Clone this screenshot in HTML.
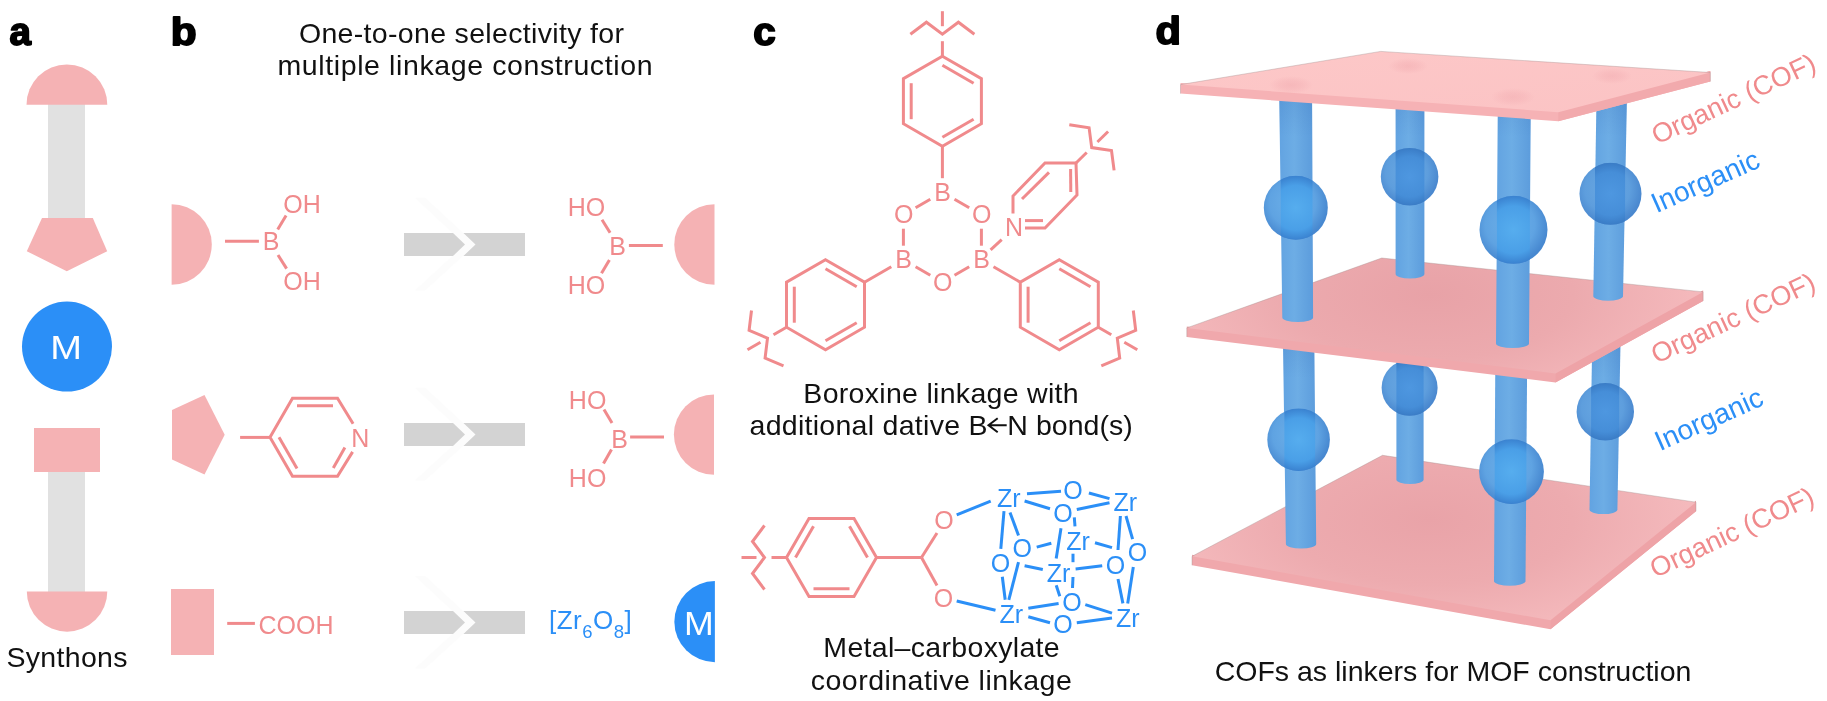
<!DOCTYPE html><html><head><meta charset="utf-8"><style>html,body{margin:0;padding:0;background:#fff;overflow:hidden}svg{display:block;font-family:"Liberation Sans",sans-serif;will-change:transform}</style></head><body><svg width="1827" height="701" viewBox="0 0 1827 701" font-family="Liberation Sans, sans-serif"><defs><linearGradient id="pil" x1="0" x2="1" y1="0" y2="0"><stop offset="0" stop-color="#62a3e1"/><stop offset="0.45" stop-color="#6dade5"/><stop offset="1" stop-color="#5c9cdc"/></linearGradient><radialGradient id="sph" cx="0.5" cy="0.5" r="0.5"><stop offset="0" stop-color="#68ace7"/><stop offset="0.8" stop-color="#5da1e0"/><stop offset="1" stop-color="#4f8fd5"/></radialGradient><radialGradient id="sphc" cx="0.5" cy="0.5" r="0.5"><stop offset="0" stop-color="#50adef"/><stop offset="0.7" stop-color="#4598e4"/><stop offset="1" stop-color="#3a84d3"/></radialGradient><linearGradient id="psh" x1="0" x2="0" y1="0" y2="1"><stop offset="0" stop-color="#2d5fa8" stop-opacity="0.18"/><stop offset="1" stop-color="#2d5fa8" stop-opacity="0"/></linearGradient><radialGradient id="ao"><stop offset="0" stop-color="#ec9ea5" stop-opacity="0.35"/><stop offset="0.5" stop-color="#ec9ea5" stop-opacity="0.22"/><stop offset="1" stop-color="#ec9ea5" stop-opacity="0"/></radialGradient><linearGradient id="topT" x1="0" x2="1" y1="0" y2="1"><stop offset="0" stop-color="#fdc8c8"/><stop offset="1" stop-color="#fbc3c4"/></linearGradient><radialGradient id="midT" gradientUnits="userSpaceOnUse" cx="1430" cy="295" r="260" gradientTransform="translate(1430 295) scale(1 0.45) translate(-1430 -295)"><stop offset="0" stop-color="#e8a2a7"/><stop offset="0.55" stop-color="#ecaaae"/><stop offset="1" stop-color="#f4b8bb"/></radialGradient><radialGradient id="botT" gradientUnits="userSpaceOnUse" cx="1430" cy="520" r="260" gradientTransform="translate(1430 520) scale(1 0.45) translate(-1430 -520)"><stop offset="0" stop-color="#e9a3a8"/><stop offset="0.55" stop-color="#edabaf"/><stop offset="1" stop-color="#f4b9bc"/></radialGradient><clipPath id="sc1"><circle cx="1409.6" cy="387.8" r="28"/></clipPath><radialGradient id="so1" gradientUnits="userSpaceOnUse" cx="1406.8" cy="383.6" r="31.4"><stop offset="0" stop-color="#6aa8e2"/><stop offset="0.65" stop-color="#5e9edd"/><stop offset="1" stop-color="#4a88cf"/></radialGradient><radialGradient id="sg1" gradientUnits="userSpaceOnUse" cx="1409.6" cy="387.8" r="28"><stop offset="0" stop-color="#4e97e0"/><stop offset="0.7" stop-color="#468ed8"/><stop offset="1" stop-color="#3a7cc6"/></radialGradient><clipPath id="sc2"><circle cx="1605.3" cy="411.7" r="28.7"/></clipPath><radialGradient id="so2" gradientUnits="userSpaceOnUse" cx="1602.4" cy="407.4" r="32.1"><stop offset="0" stop-color="#6aa8e2"/><stop offset="0.65" stop-color="#5e9edd"/><stop offset="1" stop-color="#4a88cf"/></radialGradient><radialGradient id="sg2" gradientUnits="userSpaceOnUse" cx="1605.3" cy="411.7" r="28.7"><stop offset="0" stop-color="#4e97e0"/><stop offset="0.7" stop-color="#468ed8"/><stop offset="1" stop-color="#3a7cc6"/></radialGradient><clipPath id="sc3"><circle cx="1298.6" cy="439.7" r="31.3"/></clipPath><radialGradient id="so3" gradientUnits="userSpaceOnUse" cx="1295.5" cy="435" r="35.1"><stop offset="0" stop-color="#6db0e8"/><stop offset="0.65" stop-color="#5fa3e2"/><stop offset="1" stop-color="#4788d0"/></radialGradient><radialGradient id="sg3" gradientUnits="userSpaceOnUse" cx="1298.6" cy="439.7" r="31.3"><stop offset="0" stop-color="#56adee"/><stop offset="0.7" stop-color="#4a9fe7"/><stop offset="1" stop-color="#3a82d0"/></radialGradient><clipPath id="sc4"><circle cx="1511.5" cy="471.6" r="32.4"/></clipPath><radialGradient id="so4" gradientUnits="userSpaceOnUse" cx="1508.3" cy="466.7" r="36.3"><stop offset="0" stop-color="#6db0e8"/><stop offset="0.65" stop-color="#5fa3e2"/><stop offset="1" stop-color="#4788d0"/></radialGradient><radialGradient id="sg4" gradientUnits="userSpaceOnUse" cx="1511.5" cy="471.6" r="32.4"><stop offset="0" stop-color="#56adee"/><stop offset="0.7" stop-color="#4a9fe7"/><stop offset="1" stop-color="#3a82d0"/></radialGradient><clipPath id="sc5"><circle cx="1409.6" cy="176.7" r="28.8"/></clipPath><radialGradient id="so5" gradientUnits="userSpaceOnUse" cx="1406.7" cy="172.4" r="32.3"><stop offset="0" stop-color="#6aa8e2"/><stop offset="0.65" stop-color="#5e9edd"/><stop offset="1" stop-color="#4a88cf"/></radialGradient><radialGradient id="sg5" gradientUnits="userSpaceOnUse" cx="1409.6" cy="176.7" r="28.8"><stop offset="0" stop-color="#4e97e0"/><stop offset="0.7" stop-color="#468ed8"/><stop offset="1" stop-color="#3a7cc6"/></radialGradient><clipPath id="sc6"><circle cx="1610.5" cy="193.8" r="31"/></clipPath><radialGradient id="so6" gradientUnits="userSpaceOnUse" cx="1607.4" cy="189.2" r="34.7"><stop offset="0" stop-color="#6aa8e2"/><stop offset="0.65" stop-color="#5e9edd"/><stop offset="1" stop-color="#4a88cf"/></radialGradient><radialGradient id="sg6" gradientUnits="userSpaceOnUse" cx="1610.5" cy="193.8" r="31"><stop offset="0" stop-color="#4e97e0"/><stop offset="0.7" stop-color="#468ed8"/><stop offset="1" stop-color="#3a7cc6"/></radialGradient><clipPath id="sc7"><circle cx="1295.8" cy="207.8" r="32"/></clipPath><radialGradient id="so7" gradientUnits="userSpaceOnUse" cx="1292.6" cy="203" r="35.8"><stop offset="0" stop-color="#6db0e8"/><stop offset="0.65" stop-color="#5fa3e2"/><stop offset="1" stop-color="#4788d0"/></radialGradient><radialGradient id="sg7" gradientUnits="userSpaceOnUse" cx="1295.8" cy="207.8" r="32"><stop offset="0" stop-color="#56adee"/><stop offset="0.7" stop-color="#4a9fe7"/><stop offset="1" stop-color="#3a82d0"/></radialGradient><clipPath id="sc8"><circle cx="1513.5" cy="229.8" r="34"/></clipPath><radialGradient id="so8" gradientUnits="userSpaceOnUse" cx="1510.1" cy="224.7" r="38.1"><stop offset="0" stop-color="#6db0e8"/><stop offset="0.65" stop-color="#5fa3e2"/><stop offset="1" stop-color="#4788d0"/></radialGradient><radialGradient id="sg8" gradientUnits="userSpaceOnUse" cx="1513.5" cy="229.8" r="34"><stop offset="0" stop-color="#56adee"/><stop offset="0.7" stop-color="#4a9fe7"/><stop offset="1" stop-color="#3a82d0"/></radialGradient></defs><rect width="1827" height="701" fill="#fff"/><text x="0" y="0" font-size="38.5" font-weight="bold" fill="#000" stroke="#000" stroke-width="1.8" stroke-linejoin="round" transform="translate(9.4,44.5) scale(1.0,1)">a</text>
<text x="0" y="0" font-size="38.5" font-weight="bold" fill="#000" stroke="#000" stroke-width="1.8" stroke-linejoin="round" transform="translate(170.8,44.5) scale(1.1,1)">b</text>
<text x="0" y="0" font-size="38.5" font-weight="bold" fill="#000" stroke="#000" stroke-width="1.8" stroke-linejoin="round" transform="translate(753.2,44.5) scale(1.05,1)">c</text>
<text x="0" y="0" font-size="38.5" font-weight="bold" fill="#000" stroke="#000" stroke-width="1.8" stroke-linejoin="round" transform="translate(1155.4,44.1) scale(1.08,1)">d</text>
<rect x="48" y="104" width="37" height="120" fill="#e1e1e1"/>
<path d="M26.5,104.8 A40.4,40.4 0 0 1 107.3,104.8 Z" fill="#f5b2b4"/>
<polygon points="42,218 92.8,218 107.2,251.2 66.8,271.2 26.8,251.2" fill="#f5b2b4" />
<circle cx="67" cy="346.6" r="45" fill="#2b8ff7"/>
<text x="0" y="0" font-size="34" fill="#fff" text-anchor="middle" transform="translate(66,359.2) scale(1.12,1)">M</text>
<rect x="48" y="470" width="37" height="122" fill="#e1e1e1"/>
<rect x="34" y="428" width="66" height="44" fill="#f5b2b4"/>
<path d="M26.8,591.4 A40.25,40.25 0 0 0 107.3,591.4 Z" fill="#f5b2b4"/>
<text x="67" y="667.4" font-size="28.5" fill="#111" text-anchor="middle" textLength="121" lengthAdjust="spacing">Synthons</text>
<text x="461.4" y="43.2" font-size="28.5" fill="#111" text-anchor="middle" textLength="325" lengthAdjust="spacing">One-to-one selectivity for</text>
<text x="465" y="74.6" font-size="28.5" fill="#111" text-anchor="middle" textLength="375" lengthAdjust="spacing">multiple linkage construction</text>
<path d="M171.6,204.3 A40.2,40.2 0 0 1 171.6,284.7 Z" fill="#f5b2b4"/>
<line x1="225" y1="241.3" x2="258.9" y2="241.3" stroke="#f08a8c" stroke-width="3.0"/>
<text x="271" y="250.2" font-size="25" fill="#f08a8c" text-anchor="middle" >B</text>
<text x="302" y="212.5" font-size="25" fill="#f08a8c" text-anchor="middle" >OH</text>
<text x="302" y="289.9" font-size="25" fill="#f08a8c" text-anchor="middle" >OH</text>
<line x1="277.7" y1="229.6" x2="286.1" y2="215.6" stroke="#f08a8c" stroke-width="3.0"/>
<line x1="278" y1="255" x2="286.6" y2="268.6" stroke="#f08a8c" stroke-width="3.0"/>
<polygon points="204.5,395.1 224.7,434.8 204.5,474.5 172,459.6 172,410" fill="#f5b2b4" />
<line x1="240.1" y1="437.4" x2="270.4" y2="437.4" stroke="#f08a8c" stroke-width="3.0"/>
<polyline points="353.1,423.7 337.5,398.2 292.5,398.2 270,437.2 292.5,476.2 337.5,476.2 352.6,451.9" fill="none" stroke="#f08a8c" stroke-width="3.0" stroke-linejoin="miter"/>
<line x1="297" y1="405.8" x2="333" y2="405.8" stroke="#f08a8c" stroke-width="3.0"/>
<line x1="279" y1="437.2" x2="297" y2="468.4" stroke="#f08a8c" stroke-width="3.0"/>
<line x1="333.3" y1="467.9" x2="344.9" y2="447.6" stroke="#f08a8c" stroke-width="3.0"/>
<text x="360.2" y="447.2" font-size="25" fill="#f08a8c" text-anchor="middle" >N</text>
<rect x="171" y="589" width="43" height="66" fill="#f5b2b4"/>
<line x1="227.2" y1="623.4" x2="254.9" y2="623.4" stroke="#f08a8c" stroke-width="3.0"/>
<text x="258.5" y="634.3" font-size="25" fill="#f08a8c" text-anchor="start" >COOH</text>
<polygon points="415,197.8 425,197.8 475.5,244.4 425,290.4 415,290.4 465,244.4" fill="#fcfcfc" />
<polygon points="404,232.9 453,232.9 465,244.4 453,255.9 404,255.9" fill="#d3d3d3" />
<polygon points="463.4,232.9 525,232.9 525,255.9 463.4,255.9 475.5,244.4" fill="#d3d3d3" />
<polygon points="415,387.8 425,387.8 475.5,434.4 425,480.4 415,480.4 465,434.4" fill="#fcfcfc" />
<polygon points="404,422.9 453,422.9 465,434.4 453,445.9 404,445.9" fill="#d3d3d3" />
<polygon points="463.4,422.9 525,422.9 525,445.9 463.4,445.9 475.5,434.4" fill="#d3d3d3" />
<polygon points="415,575.9 425,575.9 475.5,622.5 425,668.5 415,668.5 465,622.5" fill="#fcfcfc" />
<polygon points="404,611 453,611 465,622.5 453,634 404,634" fill="#d3d3d3" />
<polygon points="463.4,611 525,611 525,634 463.4,634 475.5,622.5" fill="#d3d3d3" />
<path d="M714.5,204.3 A40.2,40.2 0 0 0 714.5,284.7 Z" fill="#f5b2b4"/>
<line x1="628.9" y1="245.4" x2="662.8" y2="245.4" stroke="#f08a8c" stroke-width="3.0"/>
<text x="617.7" y="255.3" font-size="25" fill="#f08a8c" text-anchor="middle" >B</text>
<text x="586.4" y="215.9" font-size="25" fill="#f08a8c" text-anchor="middle" >HO</text>
<text x="586.4" y="293.8" font-size="25" fill="#f08a8c" text-anchor="middle" >HO</text>
<line x1="610.1" y1="232.7" x2="602" y2="219.7" stroke="#f08a8c" stroke-width="3.0"/>
<line x1="609.4" y1="260" x2="601.5" y2="273.3" stroke="#f08a8c" stroke-width="3.0"/>
<path d="M714,394.5 A40.1,40.1 0 0 0 714,474.7 Z" fill="#f5b2b4"/>
<line x1="630.1" y1="437.1" x2="664" y2="437.1" stroke="#f08a8c" stroke-width="3.0"/>
<text x="619.6" y="447.5" font-size="25" fill="#f08a8c" text-anchor="middle" >B</text>
<text x="587.6" y="409.3" font-size="25" fill="#f08a8c" text-anchor="middle" >HO</text>
<text x="587.6" y="487.2" font-size="25" fill="#f08a8c" text-anchor="middle" >HO</text>
<line x1="612" y1="423" x2="604" y2="409.5" stroke="#f08a8c" stroke-width="3.0"/>
<line x1="611.5" y1="449.5" x2="603.5" y2="463.5" stroke="#f08a8c" stroke-width="3.0"/>
<text x="549" y="629.4" font-size="26" letter-spacing="0.5" fill="#2b8ff7">[Zr<tspan font-size="18.5" dy="8.5">6</tspan><tspan dy="-8.5">O</tspan><tspan font-size="18.5" dy="8.5">8</tspan><tspan dy="-8.5">]</tspan></text>
<path d="M714.9,581.1 A40.5,40.5 0 0 0 714.9,662.2 Z" fill="#2b8ff7"/>
<text x="0" y="0" font-size="34" fill="#fff" text-anchor="middle" transform="translate(698.8,634.8) scale(1.05,1)">M</text>
<line x1="954.5" y1="199.2" x2="969.2" y2="207.7" stroke="#f08a8c" stroke-width="3.0"/>
<line x1="981.4" y1="228.7" x2="981.4" y2="245.7" stroke="#f08a8c" stroke-width="3.0"/>
<line x1="969.2" y1="266.7" x2="954.5" y2="275.2" stroke="#f08a8c" stroke-width="3.0"/>
<line x1="930.3" y1="275.2" x2="915.6" y2="266.7" stroke="#f08a8c" stroke-width="3.0"/>
<line x1="903.4" y1="245.7" x2="903.4" y2="228.7" stroke="#f08a8c" stroke-width="3.0"/>
<line x1="915.6" y1="207.7" x2="930.3" y2="199.2" stroke="#f08a8c" stroke-width="3.0"/>
<text x="942.7" y="200.8" font-size="25" fill="#f08a8c" text-anchor="middle" >B</text>
<text x="981.7" y="223.3" font-size="25" fill="#f08a8c" text-anchor="middle" >O</text>
<text x="981.7" y="268.3" font-size="25" fill="#f08a8c" text-anchor="middle" >B</text>
<text x="942.7" y="290.8" font-size="25" fill="#f08a8c" text-anchor="middle" >O</text>
<text x="903.7" y="268.3" font-size="25" fill="#f08a8c" text-anchor="middle" >B</text>
<text x="903.7" y="223.3" font-size="25" fill="#f08a8c" text-anchor="middle" >O</text>
<polygon points="942.4,56.2 981.4,78.7 981.4,123.7 942.4,146.2 903.4,123.7 903.4,78.7" fill="none" stroke="#f08a8c" stroke-width="3.0" stroke-linejoin="miter"/>
<line x1="942.4" y1="65.2" x2="973.6" y2="83.2" stroke="#f08a8c" stroke-width="3.0"/>
<line x1="911.2" y1="119.2" x2="911.2" y2="83.2" stroke="#f08a8c" stroke-width="3.0"/>
<line x1="973.6" y1="119.2" x2="942.4" y2="137.2" stroke="#f08a8c" stroke-width="3.0"/>
<line x1="942.4" y1="146.2" x2="942.4" y2="178.2" stroke="#f08a8c" stroke-width="3.0"/>
<line x1="942.4" y1="56.2" x2="942.4" y2="41.2" stroke="#f08a8c" stroke-width="3.0"/>
<line x1="942.4" y1="26.2" x2="942.4" y2="11.2" stroke="#f08a8c" stroke-width="3.0"/>
<polyline points="910.4,34.2 926.4,22.2 942.4,34.2 958.4,22.2 974.4,34.2" fill="none" stroke="#f08a8c" stroke-width="3.0" stroke-linejoin="miter"/>
<polygon points="825.5,259.7 864.5,282.2 864.5,327.2 825.5,349.7 786.5,327.2 786.5,282.2" fill="none" stroke="#f08a8c" stroke-width="3.0" stroke-linejoin="miter"/>
<line x1="825.5" y1="268.7" x2="856.7" y2="286.7" stroke="#f08a8c" stroke-width="3.0"/>
<line x1="794.3" y1="322.7" x2="794.3" y2="286.7" stroke="#f08a8c" stroke-width="3.0"/>
<line x1="856.7" y1="322.7" x2="825.5" y2="340.7" stroke="#f08a8c" stroke-width="3.0"/>
<line x1="891.3" y1="266.7" x2="864.5" y2="282.2" stroke="#f08a8c" stroke-width="3.0"/>
<line x1="786.5" y1="327.2" x2="773.5" y2="334.7" stroke="#f08a8c" stroke-width="3.0"/>
<line x1="760.5" y1="342.2" x2="747.5" y2="349.7" stroke="#f08a8c" stroke-width="3.0"/>
<polyline points="783.5,365.9 765.1,358.1 767.5,338.2 749.1,330.3 751.5,310.5" fill="none" stroke="#f08a8c" stroke-width="3.0" stroke-linejoin="miter"/>
<polygon points="1059.3,259.7 1098.3,282.2 1098.3,327.2 1059.3,349.7 1020.3,327.2 1020.3,282.2" fill="none" stroke="#f08a8c" stroke-width="3.0" stroke-linejoin="miter"/>
<line x1="1059.3" y1="268.7" x2="1090.5" y2="286.7" stroke="#f08a8c" stroke-width="3.0"/>
<line x1="1028.1" y1="322.7" x2="1028.1" y2="286.7" stroke="#f08a8c" stroke-width="3.0"/>
<line x1="1090.5" y1="322.7" x2="1059.3" y2="340.7" stroke="#f08a8c" stroke-width="3.0"/>
<line x1="993.5" y1="266.7" x2="1020.3" y2="282.2" stroke="#f08a8c" stroke-width="3.0"/>
<line x1="1098.3" y1="327.2" x2="1111.3" y2="334.7" stroke="#f08a8c" stroke-width="3.0"/>
<line x1="1124.3" y1="342.2" x2="1137.3" y2="349.7" stroke="#f08a8c" stroke-width="3.0"/>
<polyline points="1133.3,310.5 1135.7,330.3 1117.3,338.2 1119.7,358.1 1101.3,365.9" fill="none" stroke="#f08a8c" stroke-width="3.0" stroke-linejoin="miter"/>
<line x1="990.6" y1="249.8" x2="1001.7" y2="239.6" stroke="#f08a8c" stroke-width="3.0"/>
<text x="1014" y="236.4" font-size="25" fill="#f08a8c" text-anchor="middle" >N</text>
<polyline points="1013,213.5 1013,196 1045,163 1076,163 1077,195 1045,228 1025,228" fill="none" stroke="#f08a8c" stroke-width="3.0" stroke-linejoin="miter"/>
<line x1="1049" y1="172.4" x2="1022" y2="199" stroke="#f08a8c" stroke-width="3.0"/>
<line x1="1070.6" y1="169" x2="1070.8" y2="192" stroke="#f08a8c" stroke-width="3.0"/>
<line x1="1025" y1="220.6" x2="1043" y2="220.6" stroke="#f08a8c" stroke-width="3.0"/>
<line x1="1076" y1="163" x2="1086.7" y2="152.5" stroke="#f08a8c" stroke-width="3.0"/>
<line x1="1097.4" y1="142" x2="1108.1" y2="131.5" stroke="#f08a8c" stroke-width="3.0"/>
<polyline points="1069.3,124.7 1089.1,127.8 1091.7,147.6 1111.5,150.6 1114.1,170.4" fill="none" stroke="#f08a8c" stroke-width="3.0" stroke-linejoin="miter"/>
<line x1="956.7" y1="514.9" x2="990.7" y2="501.1" stroke="#2b8ff7" stroke-width="3.0"/>
<line x1="956.7" y1="601" x2="995.5" y2="610.2" stroke="#2b8ff7" stroke-width="3.0"/>
<line x1="1027" y1="493.8" x2="1061" y2="491.3" stroke="#2b8ff7" stroke-width="3.0"/>
<line x1="1088.9" y1="493" x2="1109.5" y2="498.6" stroke="#2b8ff7" stroke-width="3.0"/>
<line x1="1024.6" y1="501" x2="1050" y2="508.8" stroke="#2b8ff7" stroke-width="3.0"/>
<line x1="1076.8" y1="509.5" x2="1109.5" y2="502.8" stroke="#2b8ff7" stroke-width="3.0"/>
<line x1="1004" y1="511.2" x2="1000.8" y2="548.8" stroke="#2b8ff7" stroke-width="3.0"/>
<line x1="1010" y1="512.5" x2="1018.5" y2="535.5" stroke="#2b8ff7" stroke-width="3.0"/>
<line x1="1074.3" y1="517.3" x2="1075" y2="526.3" stroke="#2b8ff7" stroke-width="3.0"/>
<line x1="1036.7" y1="547.1" x2="1051.3" y2="543.3" stroke="#2b8ff7" stroke-width="3.0"/>
<line x1="1095" y1="542.8" x2="1112" y2="547.6" stroke="#2b8ff7" stroke-width="3.0"/>
<line x1="1126" y1="516" x2="1132.6" y2="539.1" stroke="#2b8ff7" stroke-width="3.0"/>
<line x1="1120.4" y1="516" x2="1118" y2="550" stroke="#2b8ff7" stroke-width="3.0"/>
<line x1="1061" y1="528.2" x2="1056.2" y2="558.5" stroke="#2b8ff7" stroke-width="3.0"/>
<line x1="1073" y1="553.7" x2="1073" y2="562.2" stroke="#2b8ff7" stroke-width="3.0"/>
<line x1="1073" y1="577" x2="1072.5" y2="588" stroke="#2b8ff7" stroke-width="3.0"/>
<line x1="1024.6" y1="565.8" x2="1042.8" y2="569.5" stroke="#2b8ff7" stroke-width="3.0"/>
<line x1="1075.6" y1="569" x2="1102.2" y2="565.8" stroke="#2b8ff7" stroke-width="3.0"/>
<line x1="1018.5" y1="562.2" x2="1008.8" y2="599.8" stroke="#2b8ff7" stroke-width="3.0"/>
<line x1="1002.3" y1="576.7" x2="1005.2" y2="599.8" stroke="#2b8ff7" stroke-width="3.0"/>
<line x1="1056.2" y1="585.2" x2="1059.8" y2="596.2" stroke="#2b8ff7" stroke-width="3.0"/>
<line x1="1028.3" y1="608.3" x2="1058.6" y2="603.4" stroke="#2b8ff7" stroke-width="3.0"/>
<line x1="1085.3" y1="604.6" x2="1112" y2="613.1" stroke="#2b8ff7" stroke-width="3.0"/>
<line x1="1028.3" y1="616.8" x2="1050" y2="622.8" stroke="#2b8ff7" stroke-width="3.0"/>
<line x1="1076.8" y1="622.8" x2="1112" y2="618" stroke="#2b8ff7" stroke-width="3.0"/>
<line x1="1118" y1="579" x2="1122.9" y2="603.4" stroke="#2b8ff7" stroke-width="3.0"/>
<line x1="1133.3" y1="567" x2="1127.7" y2="603.4" stroke="#2b8ff7" stroke-width="3.0"/>
<text x="1008.8" y="507.2" font-size="25" fill="#2b8ff7" text-anchor="middle" >Zr</text>
<text x="1073.1" y="499.2" font-size="25" fill="#2b8ff7" text-anchor="middle" >O</text>
<text x="1125.3" y="511.4" font-size="25" fill="#2b8ff7" text-anchor="middle" >Zr</text>
<text x="1063" y="521.8" font-size="25" fill="#2b8ff7" text-anchor="middle" >O</text>
<text x="1078" y="550.2" font-size="25" fill="#2b8ff7" text-anchor="middle" >Zr</text>
<text x="1022.2" y="557.4" font-size="25" fill="#2b8ff7" text-anchor="middle" >O</text>
<text x="1000.4" y="572" font-size="25" fill="#2b8ff7" text-anchor="middle" >O</text>
<text x="1058.6" y="581.7" font-size="25" fill="#2b8ff7" text-anchor="middle" >Zr</text>
<text x="1115.6" y="573.9" font-size="25" fill="#2b8ff7" text-anchor="middle" >O</text>
<text x="1137.4" y="561.1" font-size="25" fill="#2b8ff7" text-anchor="middle" >O</text>
<text x="1072" y="610.8" font-size="25" fill="#2b8ff7" text-anchor="middle" >O</text>
<text x="1011.3" y="622.9" font-size="25" fill="#2b8ff7" text-anchor="middle" >Zr</text>
<text x="1063" y="633.4" font-size="25" fill="#2b8ff7" text-anchor="middle" >O</text>
<text x="1127.7" y="627.1" font-size="25" fill="#2b8ff7" text-anchor="middle" >Zr</text>
<text x="944" y="529" font-size="25" fill="#f08a8c" text-anchor="middle" >O</text>
<text x="943.5" y="606.8" font-size="25" fill="#f08a8c" text-anchor="middle" >O</text>
<polygon points="786.5,557.5 809,518.5 854,518.5 876.5,557.5 854,596.5 809,596.5" fill="none" stroke="#f08a8c" stroke-width="3.0" stroke-linejoin="miter"/>
<line x1="795.5" y1="557.5" x2="813.5" y2="526.3" stroke="#f08a8c" stroke-width="3.0"/>
<line x1="849.5" y1="526.3" x2="867.5" y2="557.5" stroke="#f08a8c" stroke-width="3.0"/>
<line x1="849.5" y1="588.7" x2="813.5" y2="588.7" stroke="#f08a8c" stroke-width="3.0"/>
<line x1="876.5" y1="557.5" x2="921.5" y2="557.5" stroke="#f08a8c" stroke-width="3.0"/>
<line x1="921.5" y1="557.5" x2="937" y2="533" stroke="#f08a8c" stroke-width="3.0"/>
<line x1="921.5" y1="557.5" x2="937" y2="585.4" stroke="#f08a8c" stroke-width="3.0"/>
<line x1="786.5" y1="557.5" x2="771.5" y2="557.5" stroke="#f08a8c" stroke-width="3.0"/>
<line x1="756.5" y1="557.5" x2="741.5" y2="557.5" stroke="#f08a8c" stroke-width="3.0"/>
<polyline points="764.5,589.5 752.5,573.5 764.5,557.5 752.5,541.5 764.5,525.5" fill="none" stroke="#f08a8c" stroke-width="3.0" stroke-linejoin="miter"/>
<line x1="956.7" y1="514.9" x2="956.7" y2="514.9" stroke="#f08a8c" stroke-width="3.0"/>
<text x="941" y="403.2" font-size="28.5" fill="#111" text-anchor="middle" textLength="275.3" lengthAdjust="spacing">Boroxine linkage with</text>
<text x="749.5" y="434.8" font-size="28.5" fill="#111" textLength="238" lengthAdjust="spacing">additional dative B</text>
<path d="M988.5,425.2 H1006.7 M997.7,418.2 L988.5,425.2 L997.7,432.2" fill="none" stroke="#111" stroke-width="2"/>
<text x="1007.3" y="434.8" font-size="28.5" fill="#111" textLength="125.5" lengthAdjust="spacing">N bond(s)</text>
<text x="941.5" y="656.9" font-size="28.5" fill="#111" text-anchor="middle" textLength="236.3" lengthAdjust="spacing">Metal&#8211;carboxylate</text>
<text x="941.3" y="689.8" font-size="28.5" fill="#111" text-anchor="middle" textLength="261" lengthAdjust="spacing">coordinative linkage</text>
<polygon points="1192,554.8 1550.5,618.8 1696,500.7 1696,511.2 1550.5,629.3 1192,565.3" fill="#f0a8ac" />
<polygon points="1550.5,618.8 1696,500.7 1696,511.2 1550.5,629.3" fill="#eea3a7" />
<polygon points="1192,556.3 1382.5,455.3 1696,502.2 1550.5,620.3" fill="url(#botT)" />
<polyline points="1192,565.3 1192,556.3 1382.5,455.3 1696,502.2 1696,511.2" fill="none" stroke="#a08888" stroke-width="0.8" opacity="0.45"/>
<path d="M1396.4,330 L1423.6,330 L1423.6,479.5 A13.6,4.5 0 0 1 1396.4,479.5 Z" fill="url(#pil)"/>
<path d="M1396.4,333 L1423.6,333 L1423.6,378 L1396.4,378 Z" fill="url(#psh)"/>
<circle cx="1409.6" cy="387.8" r="28" fill="url(#so1)"/>
<g clip-path="url(#sc1)"><rect x="1396.4" y="359.8" width="27.2" height="56" fill="url(#sg1)"/></g>
<path d="M1592.4,330 L1620.7,330 L1617.4,510 A14,4.5 0 0 1 1589.5,510 Z" fill="url(#pil)"/>
<path d="M1592.4,333 L1620.7,333 L1619.9,378 L1591.7,378 Z" fill="url(#psh)"/>
<circle cx="1605.3" cy="411.7" r="28.7" fill="url(#so2)"/>
<g clip-path="url(#sc2)"><rect x="1591.1" y="383" width="28.1" height="57.4" fill="url(#sg2)"/></g>
<path d="M1282.8,330 L1314.2,330 L1316.2,544 A15.1,4.5 0 0 1 1285.9,544 Z" fill="url(#pil)"/>
<path d="M1282.8,333 L1314.2,333 L1314.6,378 L1283.4,378 Z" fill="url(#psh)"/>
<circle cx="1298.6" cy="439.7" r="31.3" fill="url(#so3)"/>
<g clip-path="url(#sc3)"><rect x="1284.4" y="408.4" width="30.8" height="62.6" fill="url(#sg3)"/></g>
<path d="M1495.5,330 L1527.4,330 L1525.5,581.5 A15.8,4.5 0 0 1 1494,581.5 Z" fill="url(#pil)"/>
<path d="M1495.5,333 L1527.4,333 L1527.1,378 L1495.2,378 Z" fill="url(#psh)"/>
<circle cx="1511.5" cy="471.6" r="32.4" fill="url(#so4)"/>
<g clip-path="url(#sc4)"><rect x="1494.7" y="439.2" width="31.7" height="64.8" fill="url(#sg4)"/></g>
<polygon points="1186.8,326.4 1555.5,371.9 1703.1,290.4 1703.1,300.9 1555.5,382.4 1186.8,336.9" fill="#f0a8ac" />
<polygon points="1555.5,371.9 1703.1,290.4 1703.1,300.9 1555.5,382.4" fill="#eea3a7" />
<polygon points="1186.8,327.9 1381.7,258 1703.1,291.9 1555.5,373.4" fill="url(#midT)" />
<polyline points="1186.8,336.9 1186.8,327.9 1381.7,258 1703.1,291.9 1703.1,300.9" fill="none" stroke="#a08888" stroke-width="0.8" opacity="0.45"/>
<path d="M1395.6,80 L1424.4,80 L1424.4,274 A14.4,4.5 0 0 1 1395.6,274 Z" fill="url(#pil)"/>
<path d="M1395.6,92 L1424.4,92 L1424.4,137 L1395.6,137 Z" fill="url(#psh)"/>
<circle cx="1409.6" cy="176.7" r="28.8" fill="url(#so5)"/>
<g clip-path="url(#sc5)"><rect x="1395.6" y="147.9" width="28.8" height="57.6" fill="url(#sg5)"/></g>
<path d="M1596.8,80 L1627.3,80 L1623,296.5 A14.9,4.5 0 0 1 1593.3,296.5 Z" fill="url(#pil)"/>
<path d="M1596.8,92 L1627.3,92 L1626.4,137 L1596.1,137 Z" fill="url(#psh)"/>
<circle cx="1610.5" cy="193.8" r="31" fill="url(#so6)"/>
<g clip-path="url(#sc6)"><rect x="1595" y="162.8" width="30.1" height="62" fill="url(#sg6)"/></g>
<path d="M1279,80 L1312,80 L1313.1,317.5 A15.4,4.5 0 0 1 1282.3,317.5 Z" fill="url(#pil)"/>
<path d="M1279,92 L1312,92 L1312.2,137 L1279.6,137 Z" fill="url(#psh)"/>
<circle cx="1295.8" cy="207.8" r="32" fill="url(#so7)"/>
<g clip-path="url(#sc7)"><rect x="1280.7" y="175.8" width="31.8" height="64" fill="url(#sg7)"/></g>
<path d="M1498,80 L1531,80 L1529,343.5 A16.5,4.5 0 0 1 1496,343.5 Z" fill="url(#pil)"/>
<path d="M1498,92 L1531,92 L1530.7,137 L1497.7,137 Z" fill="url(#psh)"/>
<circle cx="1513.5" cy="229.8" r="34" fill="url(#so8)"/>
<g clip-path="url(#sc8)"><rect x="1496.9" y="195.8" width="33" height="68" fill="url(#sg8)"/></g>
<polygon points="1180.5,83.1 1558.3,110.7 1710.3,71 1710.3,81.5 1558.3,121.2 1180.5,93.6" fill="#f6b2b5" />
<polygon points="1558.3,110.7 1710.3,71 1710.3,81.5 1558.3,121.2" fill="#f2aaad" />
<polygon points="1180.5,84.6 1380.7,51.4 1710.3,72.5 1558.3,112.2" fill="url(#topT)" />
<ellipse cx="1291" cy="85" rx="22" ry="9" fill="url(#ao)" opacity="1"/>
<ellipse cx="1408" cy="66" rx="20" ry="8" fill="url(#ao)" opacity="1"/>
<ellipse cx="1513" cy="97" rx="22" ry="9" fill="url(#ao)" opacity="0.9"/>
<ellipse cx="1612" cy="76" rx="20" ry="8" fill="url(#ao)" opacity="0.9"/>
<polyline points="1180.5,93.6 1180.5,84.6 1380.7,51.4 1710.3,72.5 1710.3,81.5" fill="none" stroke="#a08888" stroke-width="0.8" opacity="0.45"/>
<text x="1656.9" y="144.8" font-size="27.1" fill="#f08a8c" transform="rotate(-25 1656.9 144.8)">Organic (COF)</text>
<text x="1656.5" y="213.3" font-size="28" fill="#2b8ff7" transform="rotate(-24 1656.5 213.3)">Inorganic</text>
<text x="1656.5" y="363.9" font-size="27.1" fill="#f08a8c" transform="rotate(-25 1656.5 363.9)">Organic (COF)</text>
<text x="1660" y="451.2" font-size="28" fill="#2b8ff7" transform="rotate(-24 1660 451.2)">Inorganic</text>
<text x="1655.3" y="578.2" font-size="27.1" fill="#f08a8c" transform="rotate(-25 1655.3 578.2)">Organic (COF)</text>
<text x="1453" y="681.4" font-size="28.5" fill="#111" text-anchor="middle">COFs as linkers for MOF construction</text></svg></body></html>
